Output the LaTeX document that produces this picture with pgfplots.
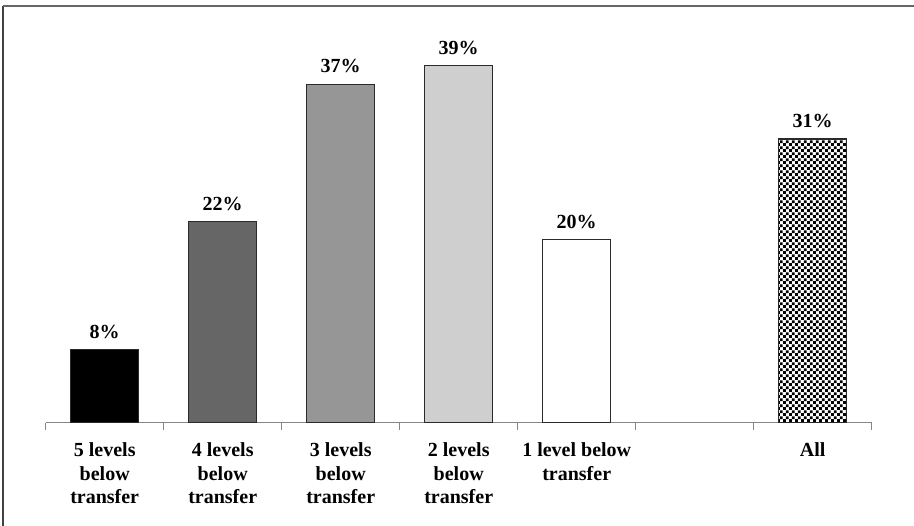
\documentclass[border=0pt]{standalone}
\usepackage{fontspec}
\setmainfont{Liberation Serif}
\usepackage{pgfplots}
\pgfplotsset{compat=1.18}
\usetikzlibrary{patterns}

% fine checkerboard fill for the "All" bar
\pgfdeclarepatternformonly{finechecker}{\pgfpointorigin}{\pgfqpoint{5.8pt}{5.8pt}}{\pgfqpoint{5.8pt}{5.8pt}}{%
  \pgfpathrectangle{\pgfpointorigin}{\pgfqpoint{2.9pt}{2.9pt}}%
  \pgfpathrectangle{\pgfqpoint{2.9pt}{2.9pt}}{\pgfqpoint{2.9pt}{2.9pt}}%
  \pgfusepath{fill}}

\definecolor{barA}{HTML}{000000}
\definecolor{barB}{HTML}{666666}
\definecolor{barC}{HTML}{969696}
\definecolor{barD}{HTML}{CFCFCF}
\definecolor{axisgray}{HTML}{868686}
\definecolor{edge}{HTML}{2A2A2A}

\begin{document}
\begin{tikzpicture}[x=1pt,y=1pt]
\useasboundingbox (0,0) rectangle (914,526);
\clip (0,0) rectangle (914,526);
% outer frame
\draw[line width=2pt, color=black!75] (2.5,-20) -- (2.5,519.5);
\draw[line width=2pt, color=black!60] (2.5,519.5) -- (940,519.5);
\begin{axis}[
  at={(45.7pt,103.3pt)}, anchor=south west,
  scale only axis,
  width=826pt, height=411.75pt,
  xmin=-0.5, xmax=6.5,
  ymin=0, ymax=45,
  axis x line*=bottom,
  axis y line=none,
  x axis line style={color=axisgray, line width=1.4pt, -},
  ybar, bar width=68pt, bar shift=0pt,
  xtick={0,1,2,3,4,5,6},
  xticklabels={{5 levels\\below\\transfer},{4 levels\\below\\transfer},{3 levels\\below\\transfer},{2 levels\\below\\transfer},{1 level below\\transfer},{},{All}},
  major tick length=0pt,
  extra x ticks={-0.5,0.5,1.5,2.5,3.5,4.5,5.5,6.5},
  extra x tick labels={},
  extra x tick style={major tick length=7pt, tick align=outside, tick style={color=axisgray, line width=1.2pt}},
  xticklabel style={align=center, anchor=north, inner sep=0pt, yshift=-20pt,
    font=\fontsize{20}{23.5}\selectfont\bfseries},
  /pgf/number format/assume math mode=true,
  nodes near coords={\pgfmathprintnumber{\pgfplotspointmeta}\%},
  every node near coord/.append style={font=\fontsize{20}{23.5}\selectfont\bfseries, color=black, yshift=7pt},
  every axis plot/.append style={draw=edge, line width=1.1pt},
  clip=false,
]
\addplot[fill=barA] coordinates {(0,8)};
\addplot[fill=barB] coordinates {(1,22)};
\addplot[fill=barC] coordinates {(2,37)};
\addplot[fill=barD] coordinates {(3,39)};
\addplot[fill=white] coordinates {(4,20)};
\addplot[pattern=finechecker, pattern color=black] coordinates {(6,31)};
\end{axis}
\end{tikzpicture}
\end{document}
